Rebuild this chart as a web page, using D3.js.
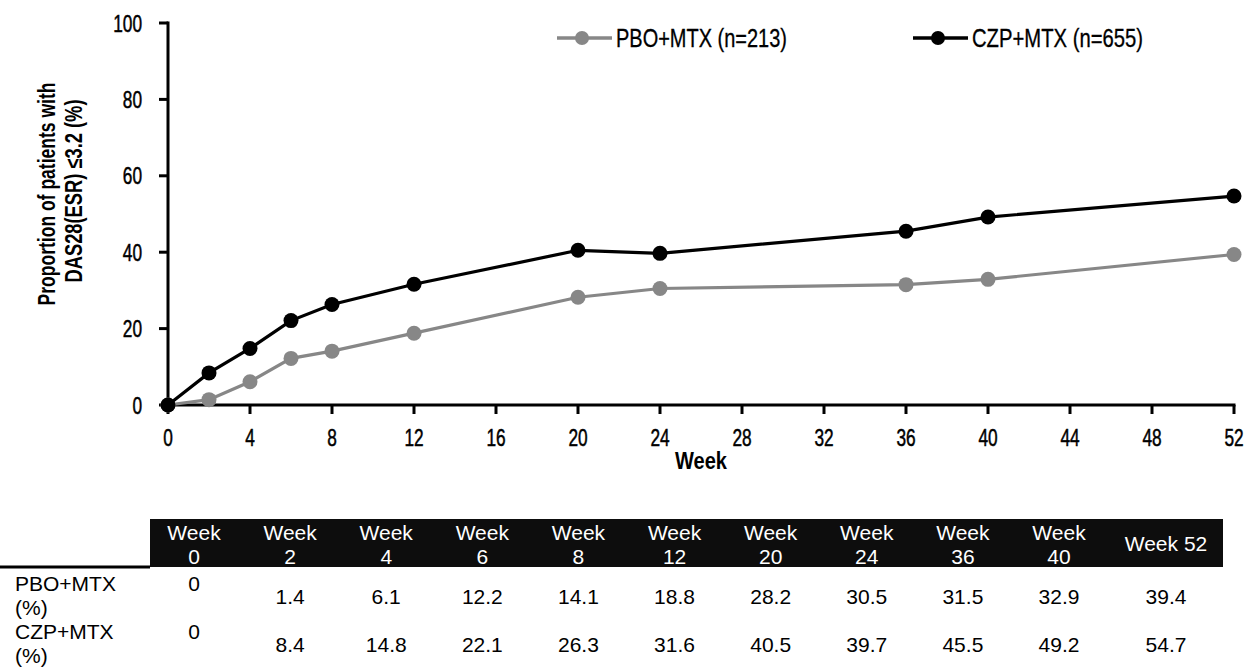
<!DOCTYPE html>
<html>
<head>
<meta charset="utf-8">
<script src="https://cdn.jsdelivr.net/npm/d3@7/dist/d3.min.js"></script>
<style>
  html, body { margin: 0; padding: 0; background: #fff; }
  svg { display: block; }
  text { font-family: "Liberation Sans", Arial, sans-serif; }
</style>
</head>
<body>
<svg id="chart" width="1258" height="669"></svg>
<script>
// Study weeks at which response was assessed
const weeks = [0, 2, 4, 6, 8, 12, 20, 24, 36, 40, 52];
// Proportion of patients with DAS28(ESR) <= 3.2 (%)
const pboValues = [0, 1.4, 6.1, 12.2, 14.1, 18.8, 28.2, 30.5, 31.5, 32.9, 39.4];
const czpValues = [0, 8.4, 14.8, 22.1, 26.3, 31.6, 40.5, 39.7, 45.5, 49.2, 54.7];
const seriesNames = ["PBO+MTX (n=213)", "CZP+MTX (n=655)"];
const rowLabels = [["PBO+MTX", "(%)"], ["CZP+MTX", "(%)"]];
const xTicks = [0, 4, 8, 12, 16, 20, 24, 28, 32, 36, 40, 44, 48, 52];
const yTicks = [0, 20, 40, 60, 80, 100];

const svg = d3.select("#chart");
const GRAY = "#878787";
const SQUEEZE = 0.72; // horizontal compression for the narrow axis lettering

// Narrow text: draws at (x, y) and compresses horizontally around the anchor
function narrow(parent, x, y, str, size, anchor, weight) {
  return parent.append("text")
    .attr("transform", `translate(${x},${y}) scale(${SQUEEZE},1)`)
    .attr("text-anchor", anchor || "start")
    .attr("font-size", size)
    .attr("font-weight", weight || "normal")
    .attr("fill", "#000")
    .attr("stroke", "#000").attr("stroke-width", 0.5)
    .text(str);
}

const x = d3.scaleLinear().domain([0, 52]).range([168, 1234]);
const y = d3.scaleLinear().domain([0, 100]).range([405, 23]);

// Y axis
const yAxis = svg.append("g");
yAxis.append("line").attr("x1", x(0)).attr("x2", x(0)).attr("y1", y(100) - 1.5).attr("y2", y(0))
  .attr("stroke", "#000").attr("stroke-width", 3);
yAxis.selectAll("line.tick").data(yTicks).join("line").attr("class", "tick")
  .attr("x1", x(0) - 9).attr("x2", x(0)).attr("y1", d => y(d)).attr("y2", d => y(d))
  .attr("stroke", "#000").attr("stroke-width", 3);
yTicks.forEach(d => narrow(yAxis, 142, y(d) + 8.5, d, 24, "end"));

// X axis
const xAxis = svg.append("g");
xAxis.append("line").attr("x1", x(0) - 1.5).attr("x2", x(52) + 1.5).attr("y1", y(0)).attr("y2", y(0))
  .attr("stroke", "#000").attr("stroke-width", 3);
xAxis.selectAll("line.tick").data(xTicks).join("line").attr("class", "tick")
  .attr("x1", d => x(d)).attr("x2", d => x(d)).attr("y1", y(0)).attr("y2", y(0) + 9)
  .attr("stroke", "#000").attr("stroke-width", 3);
xTicks.forEach(d => narrow(xAxis, x(d), 446, d, 24, "middle"));

svg.append("text").attr("x", x(26)).attr("y", 469)
  .attr("text-anchor", "middle").attr("font-size", 24).attr("font-weight", "bold")
  .attr("textLength", 52).attr("lengthAdjust", "spacingAndGlyphs").text("Week");

// Y axis title (two lines)
const yTitle = svg.append("g").attr("transform", "translate(55,194) rotate(-90)");
yTitle.append("text").attr("x", 0).attr("y", 0).attr("text-anchor", "middle")
  .attr("font-size", 23).attr("font-weight", "bold")
  .attr("textLength", 223).attr("lengthAdjust", "spacingAndGlyphs")
  .text("Proportion of patients with");
yTitle.append("text").attr("x", 3).attr("y", 27).attr("text-anchor", "middle")
  .attr("font-size", 23).attr("font-weight", "bold")
  .attr("textLength", 183).attr("lengthAdjust", "spacingAndGlyphs")
  .text("DAS28(ESR) \u22643.2 (%)");

// Series lines and markers
const line = d3.line().x((d, i) => x(weeks[i])).y(d => y(d));
const series = [
  { values: pboValues, color: GRAY },
  { values: czpValues, color: "#000" }
];
series.forEach(s => {
  const g = svg.append("g");
  g.append("path").datum(s.values).attr("d", line)
    .attr("fill", "none").attr("stroke", s.color).attr("stroke-width", 3.2);
  g.selectAll("circle").data(s.values).join("circle")
    .attr("cx", (d, i) => x(weeks[i])).attr("cy", d => y(d)).attr("r", 7.5)
    .attr("fill", s.color);
});

// Legend
const legendX = [557, 913];
seriesNames.forEach((name, i) => {
  const g = svg.append("g").attr("transform", `translate(${legendX[i]},38)`);
  g.append("line").attr("x1", 0).attr("x2", 55).attr("y1", 0).attr("y2", 0)
    .attr("stroke", series[i].color).attr("stroke-width", 3.5);
  g.append("circle").attr("cx", 25).attr("cy", 0).attr("r", 7).attr("fill", series[i].color);
  g.append("text").attr("x", 59).attr("y", 9)
    .attr("font-size", 25).attr("textLength", 171).attr("lengthAdjust", "spacingAndGlyphs")
    .attr("stroke", "#000").attr("stroke-width", 0.3)
    .text(name);
});

// Data table below the chart
const tableLeft = 150, tableRight = 1223, headTop = 519, headBottom = 567;
const colX = d3.scaleLinear().domain([0, 9]).range([194, 1059]);
const colCenter = i => i < weeks.length - 1 ? colX(i) : 1166;

const table = svg.append("g");
table.append("rect").attr("x", tableLeft).attr("y", headTop)
  .attr("width", tableRight - tableLeft).attr("height", headBottom - headTop).attr("fill", "#0d0d0d");
table.append("line").attr("x1", 0).attr("x2", tableLeft).attr("y1", headBottom).attr("y2", headBottom)
  .attr("stroke", "#000").attr("stroke-width", 3);

const FS = 21;
weeks.forEach((w, i) => {
  const cx = colCenter(i);
  if (i < weeks.length - 1) {
    table.append("text").attr("x", cx).attr("y", 540).attr("text-anchor", "middle")
      .attr("font-size", FS).attr("fill", "#fff").text("Week");
    table.append("text").attr("x", cx).attr("y", 564).attr("text-anchor", "middle")
      .attr("font-size", FS).attr("fill", "#fff").text(w);
  } else {
    table.append("text").attr("x", cx).attr("y", 551).attr("text-anchor", "middle")
      .attr("font-size", FS).attr("fill", "#fff").text("Week " + w);
  }
});

const rowTop = [576, 624];
[pboValues, czpValues].forEach((vals, r) => {
  const top = rowTop[r];
  rowLabels[r].forEach((t, k) => {
    table.append("text").attr("x", 15).attr("y", top + 15 + k * 24)
      .attr("font-size", FS).attr("fill", "#000").text(t);
  });
  vals.forEach((v, i) => {
    table.append("text").attr("x", colCenter(i)).attr("y", i === 0 ? top + 15 : top + 28)
      .attr("text-anchor", "middle").attr("font-size", FS).attr("fill", "#000")
      .text(i === 0 ? v : v.toFixed(1));
  });
});
</script>
</body>
</html>
